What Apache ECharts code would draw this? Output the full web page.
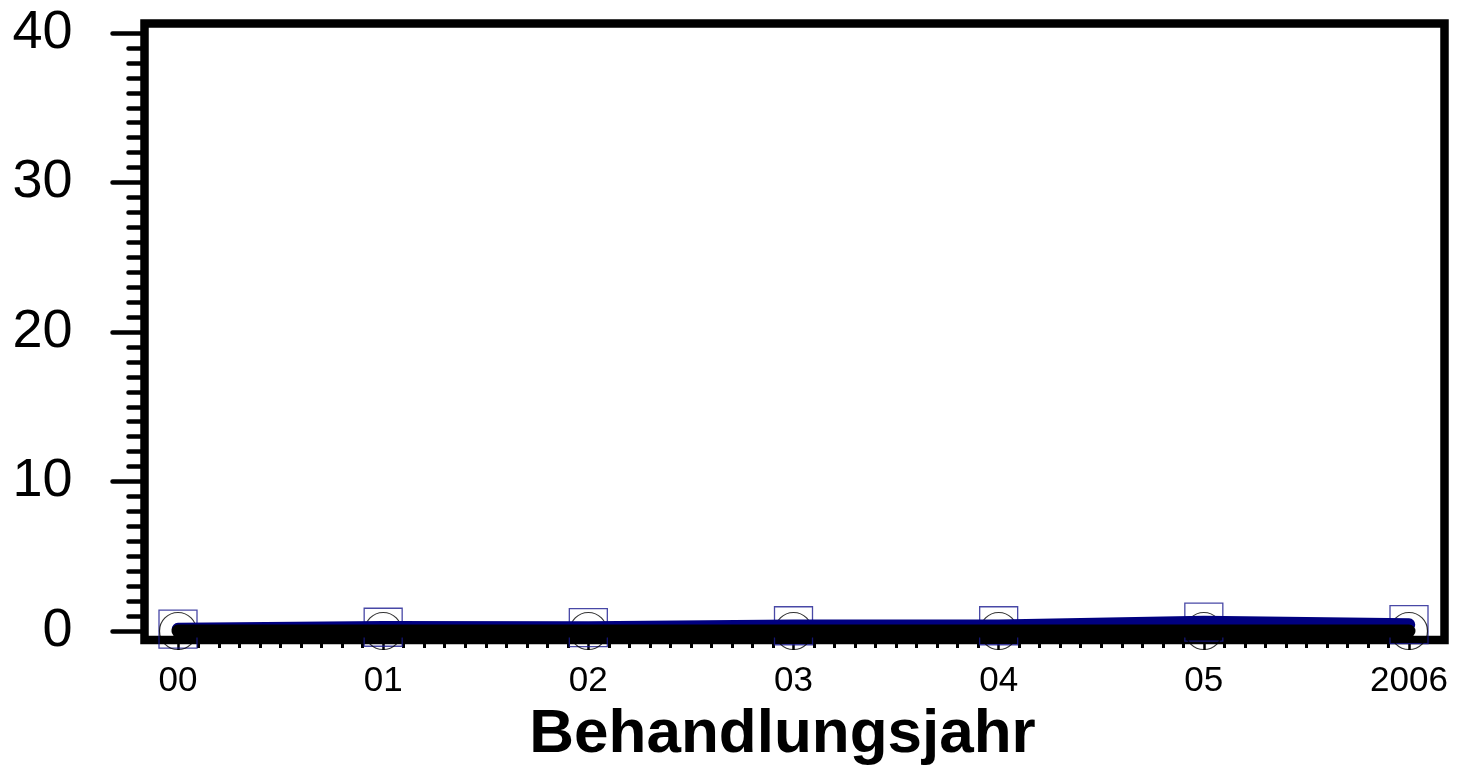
<!DOCTYPE html>
<html>
<head>
<meta charset="utf-8">
<script src="https://cdn.jsdelivr.net/npm/echarts@6/dist/echarts.min.js"></script>
<style>
html,body{margin:0;padding:0;background:#fff;}
#chart{width:1468px;height:777px;}
</style>
</head>
<body>
<div id="chart"></div>
<script>
// ---- data ----
var categories = ['00', '01', '02', '03', '04', '05', '2006'];
var seriesBlue = [0.13, 0.25, 0.23, 0.35, 0.35, 0.6, 0.43];   // navy line, square markers
var seriesBlack = [0, 0, 0, 0, 0, 0, 0];                       // black line, circle markers
var yTicks = [0, 10, 20, 30, 40];
var xTitle = 'Behandlungsjahr';

function pairs(arr) { return arr.map(function (v, i) { return [i, v]; }); }

var chart = echarts.init(document.getElementById('chart'), null, {renderer: 'canvas'});
var FONT = '"Liberation Sans", Arial, sans-serif';
var XMAX = categories.length - 1;
var YMIN = yTicks[0], YMAX = yTicks[yTicks.length - 1];

var option = {
  backgroundColor: '#fff',
  animation: false,
  grid: [
    { // 0: frame
      left: 144.5, right: 23.5, top: 23.5, bottom: 137, outerBoundsMode: 'none',
      show: true, borderWidth: 8.5, borderColor: '#000', backgroundColor: 'transparent'
    },
    { left: 178, right: 59, top: 33, bottom: 146, outerBoundsMode: 'none' },   // 1: data
    { left: 144.5, right: 59, top: 33, bottom: 146, outerBoundsMode: 'none' }, // 2: y ticks
    { left: 178, right: 59, top: 33, bottom: 137, outerBoundsMode: 'none' }    // 3: x ticks
  ],
  xAxis: [
    { gridIndex: 0, type: 'value', min: 0, max: 1, show: false },
    { gridIndex: 1, type: 'value', min: 0, max: XMAX, show: false },
    { gridIndex: 2, type: 'value', min: 0, max: XMAX, show: false },
    {
      gridIndex: 3, type: 'value', min: 0, max: XMAX, interval: 1,
      axisLine: { show: false },
      axisTick: { show: true, length: 10, lineStyle: { color: '#000', width: 2.5 } },
      minorTick: { show: true, splitNumber: 10, length: 8, lineStyle: { color: '#000', width: 3 } },
      splitLine: { show: false },
      axisLabel: {
        margin: 24, fontSize: 35, color: '#000', fontFamily: FONT,
        formatter: function (v) { return categories[Math.round(v)]; }
      },
      name: xTitle, nameLocation: 'middle', nameGap: 60,
      nameTextStyle: { fontSize: 62, fontWeight: 'bold', color: '#000', fontFamily: FONT, padding: [0, 22, 0, 0] }
    }
  ],
  yAxis: [
    { gridIndex: 0, type: 'value', min: 0, max: 1, show: false },
    { gridIndex: 1, type: 'value', min: YMIN, max: YMAX, show: false },
    {
      gridIndex: 2, type: 'value', min: YMIN, max: YMAX, interval: 10,
      axisLine: { show: false },
      axisTick: { show: true, length: 32, lineStyle: { color: '#000', width: 4.5, cap: 'round' } },
      minorTick: { show: true, splitNumber: 10, length: 16, lineStyle: { color: '#000', width: 4.5, cap: 'round' } },
      splitLine: { show: false },
      axisLabel: { margin: 72, fontSize: 54, color: '#000', fontFamily: FONT }
    },
    { gridIndex: 3, type: 'value', min: YMIN, max: YMAX, show: false }
  ],
  series: [
    {
      type: 'scatter', xAxisIndex: 1, yAxisIndex: 1, data: pairs(seriesBlue),
      symbol: 'rect', symbolSize: 38, z: 2, clip: false,
      itemStyle: { color: 'rgba(0,0,0,0)', borderColor: '#1a1a90', borderWidth: 1.3 }
    },
    {
      type: 'scatter', xAxisIndex: 1, yAxisIndex: 1, data: pairs(seriesBlack),
      symbol: 'circle', symbolSize: 37, z: 2, clip: false,
      itemStyle: { color: 'rgba(0,0,0,0)', borderColor: '#000', borderWidth: 1.2 }
    },
    {
      type: 'line', xAxisIndex: 1, yAxisIndex: 1, data: pairs(seriesBlue),
      showSymbol: false, symbol: 'none', z: 3, clip: false,
      lineStyle: { color: '#000080', width: 12.5, cap: 'round', join: 'round' }
    },
    {
      type: 'line', xAxisIndex: 1, yAxisIndex: 1, data: pairs(seriesBlack),
      showSymbol: false, symbol: 'none', z: 4, clip: false,
      lineStyle: { color: '#000', width: 13, cap: 'round', join: 'round' }
    }
  ]
};
chart.setOption(option);
</script>
</body>
</html>
